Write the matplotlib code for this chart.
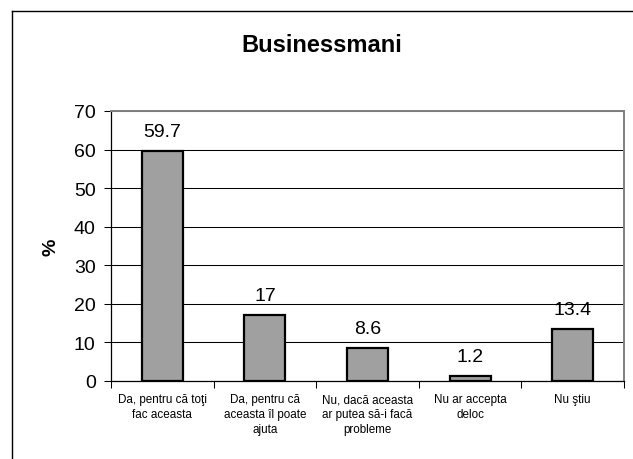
import matplotlib
matplotlib.use("Agg")
import matplotlib.pyplot as plt
from matplotlib.lines import Line2D

plt.rcParams['font.family'] = ['Liberation Sans', 'DejaVu Sans']

title = "Businessmani"
categories = ["Da, pentru că toţi\nfac aceasta",
              "Da, pentru că\naceasta îl poate\najuta",
              "Nu, dacă aceasta\nar putea să-i facă\nprobleme",
              "Nu ar accepta\ndeloc",
              "Nu ştiu"]
values = [59.7, 17, 8.6, 1.2, 13.4]
value_labels = ["59.7", "17", "8.6", "1.2", "13.4"]
yticks = [0, 10, 20, 30, 40, 50, 60, 70]
ylabel = "%"

fig = plt.figure(figsize=(6.33, 4.60), dpi=100)
ax = fig.add_axes([111/633, 78/460, 513/633, 270/460])

x = list(range(len(values)))
ax.bar(x, values, width=0.4, color="#a0a0a0", edgecolor="black", linewidth=1.6, zorder=3)
for xi, v, lab in zip(x, values, value_labels):
    ax.annotate(lab, (xi, v), xytext=(0, 8), textcoords="offset points",
                ha="center", va="bottom", fontsize=14)

ax.set_xlim(-0.5, len(values) - 0.5)
ax.set_ylim(0, 70)
ax.set_yticks(yticks)
ax.set_yticklabels([str(t) for t in yticks], fontsize=14)
ax.yaxis.grid(True, color="black", linewidth=0.75, zorder=0)
ax.set_axisbelow(True)

ax.set_xticks(x)
ax.set_xticklabels(categories, fontsize=8.4, linespacing=1.3)
ax.tick_params(axis="x", which="major", length=0, pad=9)
ax.set_xticks([i - 0.5 for i in range(len(values) + 1)], minor=True)
ax.tick_params(axis="x", which="minor", length=5, width=0.75, direction="out")
ax.tick_params(axis="y", length=5, width=0.75, direction="out", pad=6)

for s in ["left", "bottom"]:
    ax.spines[s].set_color("black")
    ax.spines[s].set_linewidth(0.9)
for s in ["top", "right"]:
    ax.spines[s].set_color("#808080")
    ax.spines[s].set_linewidth(1.4)

ax.set_ylabel(ylabel, fontsize=14, fontweight="bold", labelpad=10)
fig.text(322/633, 1 - 46/460, title, ha="center", va="center", fontsize=17, fontweight="bold")

# outer chart frame (left and top edges visible)
fig.add_artist(Line2D([11.5/633, 11.5/633], [0, 1 - 11.5/460], color="black", linewidth=1.0))
fig.add_artist(Line2D([11.5/633, 1], [1 - 11.5/460, 1 - 11.5/460], color="black", linewidth=1.0))

fig.savefig("out.png", dpi=100)
